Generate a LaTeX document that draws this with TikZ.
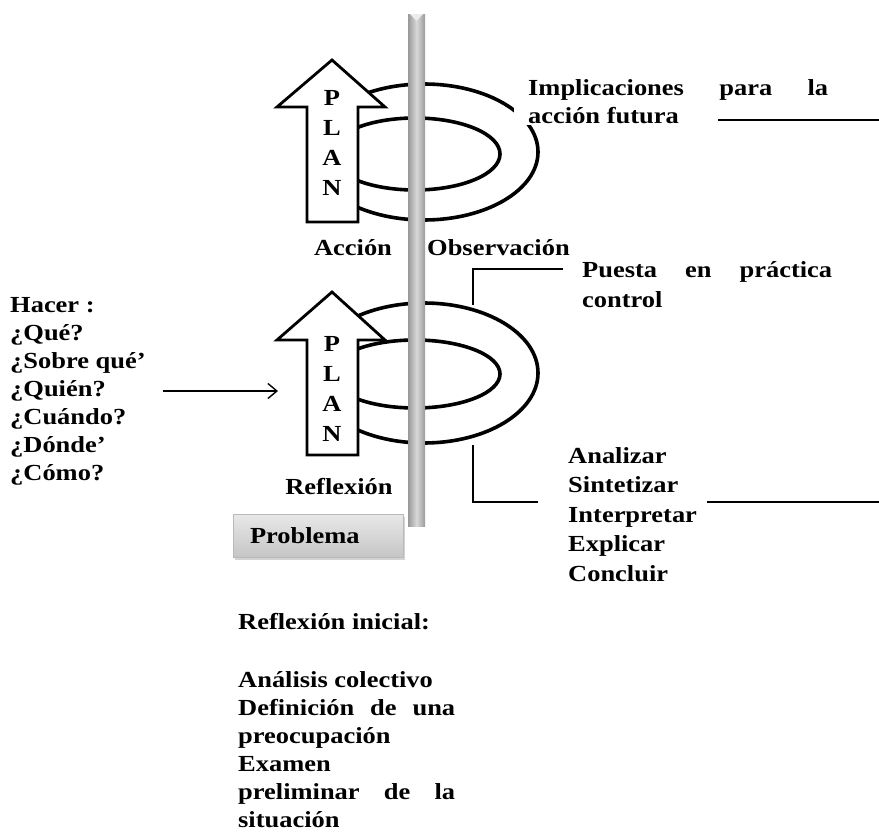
\documentclass[tikz,border=0pt]{standalone}
\usepackage{fontspec}
\setmainfont{Liberation Serif}[FakeStretch=1.15]
\usetikzlibrary{shadows,arrows.meta}
% a line whose interword spaces are stretched to a given width
\newcommand\spreadline[2]{\makebox[#1][s]{#2}}
\begin{document}
\begin{tikzpicture}[x=1pt,y=-1pt,
  txt/.style={font=\fontsize{23}{28}\selectfont\bfseries, inner sep=0pt},
  ring/.style={line width=3.6pt},
  bigarrow/.style={draw, line width=2.8pt, fill=white, line join=miter},
  bracket/.style={line width=1.6pt},
  pole/.style={left color=gray!80, right color=gray!80, middle color=gray!30},
  probbox/.style={draw=gray!55, line width=0.8pt, top color=gray!18, bottom color=gray!45,
    drop shadow={shadow xshift=2pt, shadow yshift=-3pt, opacity=.35},
    minimum height=43pt, text width=136pt, inner xsep=17pt, align=left,
    font=\fontsize{23}{28}\selectfont\bfseries},
]
\useasboundingbox (0,0) rectangle (879,835);

% the two cycles
\draw[ring] (424,152) ellipse [x radius=114pt, y radius=68pt];
\draw[ring] (415,154) ellipse [x radius=85pt, y radius=36pt];
\draw[ring] (424,373) ellipse [x radius=114pt, y radius=70pt];
\draw[ring] (415,374) ellipse [x radius=85pt, y radius=34pt];

% block arrows carrying the PLAN
\draw[bigarrow] (332,60) -- (385,107) -- (358,107) -- (358,222) -- (307,222)
  -- (307,107) -- (277,107) -- cycle;
\draw[bigarrow] (332,292) -- (385,340) -- (358,340) -- (358,455) -- (307,455)
  -- (307,340) -- (277,340) -- cycle;
\node[txt, align=center, font=\fontsize{23}{30}\selectfont\bfseries] (plan1) at (332,143) {P\\L\\A\\N};
\node[txt, align=center, font=\fontsize{23}{30}\selectfont\bfseries] (plan2) at (332,389) {P\\L\\A\\N};

% vertical axis
\shade[pole] (408,14) rectangle (425,526);
\fill[white!85!gray] (410,14) -- (423,14) -- (416.5,21) -- cycle;

% labels round the cycles
\node[txt, anchor=north west, align=left, fill=white, inner xsep=14pt, inner ysep=2pt] (impl) at (514,77)
  {\spreadline{300pt}{Implicaciones para la}\\acción futura};
\node[txt] (accion) at (353,248) {Acción};
\node[txt, anchor=west] (obs) at (427,248) {Observación};
\node[txt, anchor=north west, font=\fontsize{23}{30}\selectfont\bfseries, align=left] (puesta) at (582,261.5)
  {\spreadline{250pt}{Puesta en práctica}\\control};
\node[txt, anchor=north west, align=left, font=\fontsize{23}{29.5}\selectfont\bfseries] (anal) at (568,447)
  {Analizar\\Sintetizar\\Interpretar\\Explicar\\Concluir};
\node[txt, anchor=north west, align=left] (hacer) at (10,297.5)
  {Hacer :\\¿Qué?\\¿Sobre qué’\\¿Quién?\\¿Cuándo?\\¿Dónde’\\¿Cómo?};
\node[txt] (reflex) at (339,487) {Reflexión};
\node[probbox] (prob) at (318,535.5) {Problema};
\node[txt, anchor=north west, align=left] (inicial) at (238,613.5)
  {Reflexión inicial:\\[30pt]
   Análisis colectivo\\
   \spreadline{217pt}{Definición de una}\\
   preocupación\\
   Examen\\
   \spreadline{217pt}{preliminar de la}\\
   situación};

% connectors
\coordinate (hq) at (163,391);
\coordinate (hp) at (278,391);
\draw[line width=1.4pt, -{Straight Barb[length=9pt, width=15pt, line width=1.4pt]}] (hq) -- (hp);

\coordinate (ia) at (718,120);
\coordinate (ib) at (879,120);
\draw[bracket] (ia) -- (ib);

\coordinate (pa) at (563,269);
\coordinate (pb) at (473,305);
\draw[bracket] (pa) -| (pb);

\coordinate (aa) at (473,445);
\coordinate (ab) at (538,502);
\draw[bracket] (aa) |- (ab);
\coordinate (ac) at (707,502);
\coordinate (ad) at (879,502);
\draw[bracket] (ac) -- (ad);
\end{tikzpicture}
\end{document}
